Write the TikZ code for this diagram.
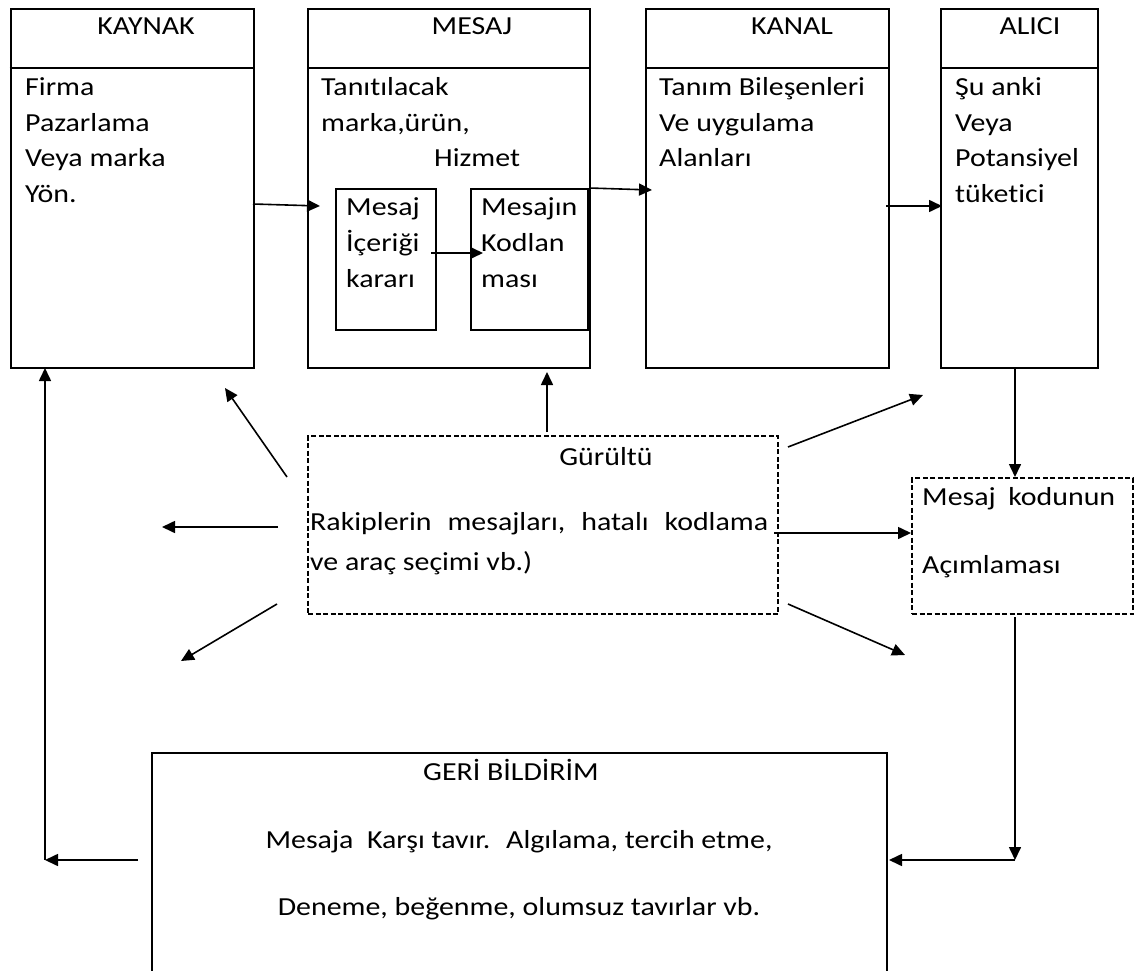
\documentclass[tikz,border=0pt]{standalone}
\usepackage{fontspec}
\setmainfont{Carlito}[FakeStretch=1.15,Ligatures=NoCommon]
\usetikzlibrary{arrows.meta}
\begin{document}
\begin{tikzpicture}[x=1pt,y=-1pt,
  every node/.style={font=\fontsize{26}{36}\selectfont},
  frame/.style={draw,line width=2pt,anchor=north west,inner sep=0pt},
  noisebox/.style={frame,dash pattern=on 5pt off 2.5pt},
  lbl/.style={anchor=base west,inner sep=0pt},
  ttl/.style={anchor=base,inner sep=0pt},
  arr/.style={line width=1.6pt,-{Triangle[length=13pt,width=12pt]}},
  divider/.style={line width=2pt}]
\fill[white] (0,0) rectangle (1141,971);
\useasboundingbox (0,0) rectangle (1141,971);
\clip (0,0) rectangle (1141,971);

% ---- top row: source, message, channel, receiver ----
\node[frame,minimum width=243.4pt,minimum height=359.3pt] (kaynak) at (9.6,7.7) {};
\node[frame,minimum width=282pt,minimum height=359.3pt] (mesaj) at (307,7.7) {};
\node[frame,minimum width=243pt,minimum height=359.3pt] (kanal) at (645,7.7) {};
\node[frame,minimum width=157pt,minimum height=359.3pt] (alici) at (940,7.7) {};
\foreach \b in {kaynak,mesaj,kanal,alici}
  \draw[divider] ([yshift=-60.3pt]\b.north west) -- ([yshift=-60.3pt]\b.north east);

\node[ttl] (kaynakT) at (146,35) {KAYNAK};
\node[ttl] (mesajT) at (472,35) {MESAJ};
\node[ttl] (kanalT) at (792,35) {KANAL};
\node[ttl] (aliciT) at (1030,35) {ALICI};

\node[lbl] (k1) at (25,96) {Firma};
\node[lbl] (k2) at (25,132) {Pazarlama};
\node[lbl] (k3) at (25,167) {Veya marka};
\node[lbl] (k4) at (25,203) {Yön.};

\node[lbl] (m1) at (321,96) {Tanıtılacak};
\node[lbl] (m2) at (321,132) {marka,ürün,};
\node[lbl] (m3) at (434,167) {Hizmet};

\node[lbl] (c1) at (659,96) {Tanım Bileşenleri};
\node[lbl] (c2) at (659,132) {Ve uygulama};
\node[lbl] (c3) at (659,167) {Alanları};

\node[lbl] (a1) at (955,96) {Şu anki};
\node[lbl] (a2) at (955,132) {Veya};
\node[lbl] (a3) at (955,167) {Potansiyel};
\node[lbl] (a4) at (955,203) {tüketici};

% ---- inner boxes of the message block ----
\node[frame,minimum width=100pt,minimum height=141pt] (icerik) at (335,188) {};
\node[frame,minimum width=117pt,minimum height=141pt] (kodlama) at (470,188) {};
\node[lbl] (i1) at (346,215) {Mesaj};
\node[lbl] (i2) at (346,251) {İçeriği};
\node[lbl] (i3) at (346,287) {kararı};
\node[lbl] (o1) at (481,215) {Mesajın};
\node[lbl] (o2) at (481,251) {Kodlan};
\node[lbl] (o3) at (481,287) {ması};

% ---- noise and decoding boxes ----
\node[noisebox,minimum width=470pt,minimum height=178pt] (noise) at (307,435) {};
\node[ttl] (noiseT) at (606,465) {Gürültü};
\node[lbl] (n1) at (310,530) {\makebox[458pt][s]{Rakiplerin\hfill mesajları,\hfill hatalı\hfill kodlama}};
\node[lbl] (n2) at (310,570) {ve araç seçimi vb.)};

\node[noisebox,minimum width=221pt,minimum height=136pt] (decode) at (911,477) {};
\node[lbl] (d1) at (922,505) {\makebox[193pt][s]{Mesaj\hfill kodunun}};
\node[lbl] (d2) at (922,573) {Açımlaması};

% ---- feedback box (open at the page bottom) ----
\node[frame,minimum width=735pt,minimum height=240pt] (geri) at (151,752) {};
\node[ttl] (geriT) at (511,780) {GERİ BİLDİRİM};
\node[ttl] (g1) at (519,848) {Mesaja~ Karşı tavır.~ Algılama, tercih etme,};
\node[ttl] (g2) at (519,915) {Deneme, beğenme, olumsuz tavırlar vb.};

% ---- connector end points ----
\coordinate (kOut) at (253,204);
\coordinate (mIn) at (320,206);
\coordinate (iOut) at (431,253);
\coordinate (oIn) at (483,253);
\coordinate (mOut) at (589,188);
\coordinate (cIn) at (652,190);
\coordinate (cOut) at (886,206);
\coordinate (aIn) at (942,206);
\coordinate (aOut) at (1015,367);
\coordinate (dIn) at (1015,477);
\coordinate (dOut) at (1015,617);
\coordinate (cornerR) at (1015,860);
\coordinate (gIn) at (889,860);
\coordinate (gOut) at (138,860);
\coordinate (cornerL) at (45,860);
\coordinate (kIn) at (45,368);

\coordinate (nUp0) at (547,432);   \coordinate (nUp1) at (547,372);
\coordinate (nUL0) at (287,477);   \coordinate (nUL1) at (225,388);
\coordinate (nL0) at (278,527);    \coordinate (nL1) at (162,527);
\coordinate (nDL0) at (277,604);   \coordinate (nDL1) at (181,661);
\coordinate (nUR0) at (788,447);   \coordinate (nUR1) at (923,395);
\coordinate (nR0) at (774,533);    \coordinate (nR1) at (911,533);
\coordinate (nDR0) at (788,604);   \coordinate (nDR1) at (905,655);

% ---- main flow ----
\draw[arr] (kOut) -- (mIn);
\draw[arr] (iOut) -- (oIn);
\draw[arr] (mOut) -- (cIn);
\draw[arr] (cOut) -- (aIn);
\draw[arr] (aOut) -- (dIn);
\draw[arr] (dOut) -- (cornerR);
\draw[arr] (cornerR) -- (gIn);
\draw[arr] (gOut) -- (cornerL);
\draw[arr] (cornerL) -- (kIn);

% ---- noise influences ----
\draw[arr] (nUp0) -- (nUp1);
\draw[arr] (nUL0) -- (nUL1);
\draw[arr] (nL0) -- (nL1);
\draw[arr] (nDL0) -- (nDL1);
\draw[arr] (nUR0) -- (nUR1);
\draw[arr] (nR0) -- (nR1);
\draw[arr] (nDR0) -- (nDR1);
\end{tikzpicture}
\end{document}
